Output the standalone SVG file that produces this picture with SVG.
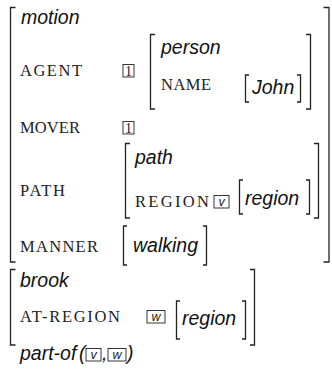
<svg xmlns="http://www.w3.org/2000/svg" width="332" height="370" viewBox="0 0 332 370">
  <style>
    .br { fill: none; stroke: #222; stroke-width: 1.3; }
    .tag { fill: none; stroke: #222; stroke-width: 0.9; }
    .ty { font-family: "Liberation Sans", "DejaVu Sans", sans-serif; font-style: italic; font-size: 19.5px; fill: #111; }
    .ft { font-family: "Liberation Serif", "DejaVu Serif", serif; font-size: 16.5px; fill: #222; }
    .num { font-family: "Liberation Serif", serif; font-size: 14px; fill: #222; text-anchor: middle; }
    .var { font-family: "Liberation Sans", sans-serif; font-style: italic; font-size: 12.5px; fill: #222; text-anchor: middle; }
  </style>
  <rect width="332" height="370" fill="#fff"/>

  <!-- motion structure -->
  <g id="motion">
    <path class="br" d="M15.5,7.5 H10.5 V262 H15.5"/>
    <path class="br" d="M323.5,7.5 H329 V262 H323.5"/>
    <text class="ty" x="21" y="24">motion</text>
    <text class="ft" x="20" y="76" textLength="62">AGENT</text>
    <text class="ft" x="20" y="133" textLength="60">MOVER</text>
    <text class="ft" x="20" y="196" textLength="45">PATH</text>
    <text class="ft" x="20" y="252" textLength="78">MANNER</text>
  </g>

  <g id="tag1-agent">
    <rect class="tag" x="123" y="64.5" width="11" height="12.5"/>
    <text class="num" x="128.5" y="75.5">1</text>
  </g>
  <g id="tag1-mover">
    <rect class="tag" x="123" y="121.5" width="11" height="12.5"/>
    <text class="num" x="128.5" y="132.5">1</text>
  </g>

  <!-- person structure -->
  <g id="person">
    <path class="br" d="M155,34.5 H150.5 V109 H155"/>
    <path class="br" d="M306,34.5 H310.5 V109 H306"/>
    <text class="ty" x="161" y="54">person</text>
    <text class="ft" x="161" y="90" textLength="50">NAME</text>
  </g>
  <g id="john">
    <path class="br" d="M249,75 H245.5 V102 H249"/>
    <path class="br" d="M297,75 H300.5 V102 H297"/>
    <text class="ty" x="252" y="94">John</text>
  </g>

  <!-- path structure -->
  <g id="path">
    <path class="br" d="M130,143.5 H125.5 V218 H130"/>
    <path class="br" d="M314,143.5 H318.5 V218 H314"/>
    <text class="ty" x="135" y="164">path</text>
    <text class="ft" x="135" y="207" textLength="74">REGION</text>
  </g>
  <g id="tag-v">
    <rect class="tag" x="214" y="195.5" width="15" height="12.5"/>
    <text class="var" x="221.5" y="206">v</text>
  </g>
  <g id="region-v">
    <path class="br" d="M243,180 H239.5 V214 H243"/>
    <path class="br" d="M306,180 H309.5 V214 H306"/>
    <text class="ty" x="245" y="205">region</text>
  </g>

  <g id="walking">
    <path class="br" d="M127,226 H123.5 V265 H127"/>
    <path class="br" d="M203,226 H206.5 V265 H203"/>
    <text class="ty" x="133" y="252">walking</text>
  </g>

  <!-- brook structure -->
  <g id="brook">
    <path class="br" d="M15.5,269.5 H10.5 V345 H15.5"/>
    <path class="br" d="M250,269.5 H254.5 V345 H250"/>
    <text class="ty" x="20" y="287">brook</text>
    <text class="ft" x="20" y="322" textLength="100">AT-REGION</text>
  </g>
  <g id="tag-w">
    <rect class="tag" x="147" y="310.5" width="18" height="12.5"/>
    <text class="var" x="156" y="321">w</text>
  </g>
  <g id="region-w">
    <path class="br" d="M180,301 H176.5 V339 H180"/>
    <path class="br" d="M242,301 H245.5 V339 H242"/>
    <text class="ty" x="182" y="325">region</text>
  </g>

  <!-- relation between the two regions -->
  <g id="part-of">
    <text class="ty" x="20" y="360">part-of</text>
    <text class="ty" x="79" y="360" font-style="normal">(</text>
    <rect class="tag" x="86" y="348.5" width="15" height="12.5"/>
    <text class="var" x="93.5" y="359">v</text>
    <text class="ty" x="102" y="360" font-style="normal">,</text>
    <rect class="tag" x="108" y="348.5" width="18" height="12.5"/>
    <text class="var" x="117" y="359">w</text>
    <text class="ty" x="127" y="360" font-style="normal">)</text>
  </g>
</svg>
